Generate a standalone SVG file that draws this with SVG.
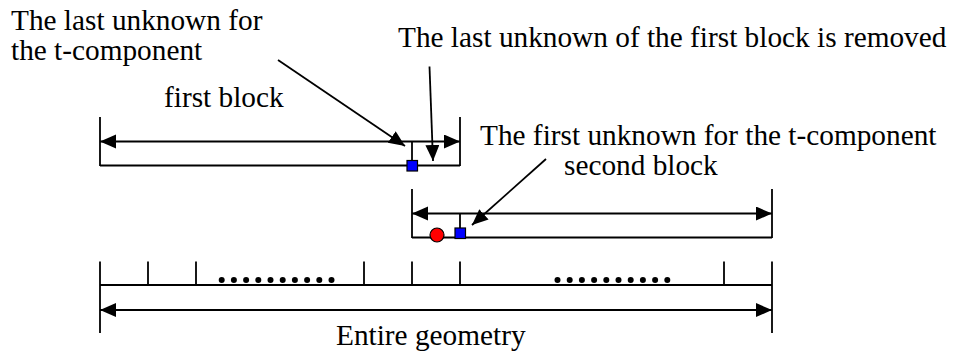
<svg xmlns="http://www.w3.org/2000/svg" width="954" height="354" viewBox="0 0 954 354">
<style>
text{font-family:"Liberation Serif","Times New Roman",serif;font-size:29.3px;fill:#000}
.ln{stroke:#000;stroke-width:1.8;fill:none}
.ar{stroke:#000;stroke-width:1.8;fill:none;marker-start:url(#ah);marker-end:url(#ah)}
.pt{stroke:#000;stroke-width:1.8;fill:none;marker-end:url(#ah)}
.sq{fill:#0000ff;stroke:#000;stroke-width:1.2}
.dot{fill:#000}
</style>
<defs>
<marker id="ah" markerUnits="userSpaceOnUse" markerWidth="17" markerHeight="15" refX="16" refY="7" orient="auto-start-reverse" viewBox="0 0 17 15">
<path d="M0,0 L16,7 L0,14 z" fill="#000"/>
</marker>
</defs>
<g id="labels">
<text x="11" y="30">The last unknown for</text>
<text x="11" y="60">the t-component</text>
<text x="398" y="47">The last unknown of the first block is removed</text>
<text x="164" y="107">first block</text>
<text x="480" y="145">The first unknown for the t-component</text>
<text x="564" y="175">second block</text>
<text x="336" y="345">Entire geometry</text>
</g>
<g id="first-block">
<line class="ln" x1="100" y1="117" x2="100" y2="166"/>
<line class="ln" x1="460" y1="117" x2="460" y2="166"/>
<line class="ar" x1="100" y1="141.5" x2="460" y2="141.5"/>
<line class="ln" x1="100" y1="165.5" x2="460" y2="165.5"/>
<line class="ln" x1="412" y1="141.5" x2="412" y2="165.5"/>
<rect class="sq" x="407" y="160.5" width="10.5" height="10.5"/>
</g>
<g id="second-block">
<line class="ln" x1="412" y1="189" x2="412" y2="238"/>
<line class="ln" x1="772" y1="189" x2="772" y2="238"/>
<line class="ar" x1="412" y1="213.5" x2="772" y2="213.5"/>
<line class="ln" x1="412" y1="237.5" x2="772" y2="237.5"/>
<line class="ln" x1="460" y1="213.5" x2="460" y2="237.5"/>
<rect class="sq" x="455" y="228" width="10.5" height="10.5"/>
<circle cx="437" cy="235" r="7" fill="#ff0000" stroke="#000" stroke-width="1.2"/>
</g>
<g id="entire-geometry">
<line class="ln" x1="100" y1="261.5" x2="100" y2="333"/>
<line class="ln" x1="772" y1="261.5" x2="772" y2="333"/>
<line class="ln" x1="100" y1="285" x2="772" y2="285"/>
<line class="ln" x1="148" y1="261.5" x2="148" y2="285"/>
<line class="ln" x1="196" y1="261.5" x2="196" y2="285"/>
<line class="ln" x1="364" y1="261.5" x2="364" y2="285"/>
<line class="ln" x1="412" y1="261.5" x2="412" y2="285"/>
<line class="ln" x1="460" y1="261.5" x2="460" y2="285"/>
<line class="ln" x1="724" y1="261.5" x2="724" y2="285"/>
<line class="ar" x1="100" y1="310" x2="772" y2="310"/>
<g class="dot">
<circle cx="221.7" cy="280" r="3"/><circle cx="233.9" cy="280" r="3"/><circle cx="246.1" cy="280" r="3"/><circle cx="258.3" cy="280" r="3"/><circle cx="270.5" cy="280" r="3"/><circle cx="282.7" cy="280" r="3"/><circle cx="294.9" cy="280" r="3"/><circle cx="307.1" cy="280" r="3"/><circle cx="319.3" cy="280" r="3"/><circle cx="331.5" cy="280" r="3"/>
<circle cx="557.5" cy="280" r="3"/><circle cx="569.7" cy="280" r="3"/><circle cx="581.9" cy="280" r="3"/><circle cx="594.1" cy="280" r="3"/><circle cx="606.3" cy="280" r="3"/><circle cx="618.5" cy="280" r="3"/><circle cx="630.7" cy="280" r="3"/><circle cx="642.9" cy="280" r="3"/><circle cx="655.1" cy="280" r="3"/><circle cx="667.3" cy="280" r="3"/>
</g>
</g>
<g id="connectors">
<line class="pt" x1="278" y1="60" x2="405" y2="146"/>
<line class="pt" x1="429.5" y1="66.5" x2="433" y2="161"/>
<line class="pt" x1="546" y1="159" x2="472" y2="225"/>
</g>
</svg>
